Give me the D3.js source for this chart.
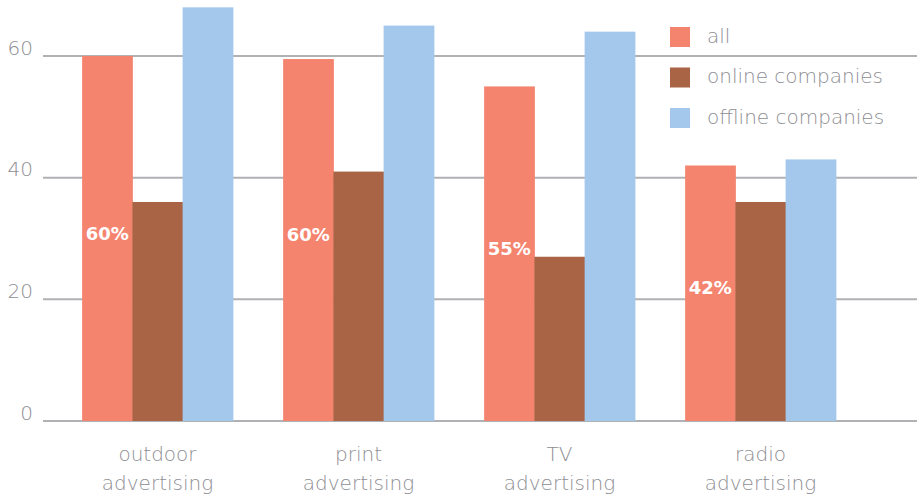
<!DOCTYPE html>
<html>
<head>
<meta charset="utf-8">
<script src="https://cdn.jsdelivr.net/npm/d3@7"></script>
<style>
  html, body { margin: 0; padding: 0; background: #ffffff; }
  svg { display: block; font-family: "DejaVu Sans", sans-serif; }
</style>
</head>
<body>
<svg id="chart" width="917" height="499"></svg>
<script>
// Share of companies using each advertising channel (%)
const categories = [["outdoor", "advertising"], ["print", "advertising"], ["TV", "advertising"], ["radio", "advertising"]];
const seriesNames = ["all", "online companies", "offline companies"];
const allValues = [60, 59.5, 55, 42];
const onlineValues = [36, 41, 27, 36];
const offlineValues = [68, 65, 64, 43];
const yTicks = [0, 20, 40, 60];
const colors = ["#F5846F", "#A86444", "#A3C8EB"];

const series = [allValues, onlineValues, offlineValues];
const catKeys = categories.map(c => c.join(" "));

const svg = d3.select("#chart");
const W = 917;

const x = d3.scaleBand().domain(catKeys).range([57, 861]).paddingInner(0.25).paddingOuter(0.125);
const xi = d3.scaleBand().domain(seriesNames).range([0, x.bandwidth()]);
const y = d3.scaleLinear().domain([0, 60]).range([421, 56]);

// horizontal grid lines with value labels sitting above them
const grid = svg.append("g");
grid.selectAll("line").data(yTicks).join("line")
  .attr("x1", 43).attr("x2", W)
  .attr("y1", d => y(d)).attr("y2", d => y(d))
  .attr("stroke", "#B0B1B4").attr("stroke-width", 2);
grid.selectAll("text").data(yTicks).join("text")
  .attr("x", 33).attr("y", d => y(d) - 7)
  .attr("text-anchor", "end").attr("dominant-baseline", "middle")
  .attr("font-size", 20).attr("font-weight", 200).attr("fill", "#8E8E93")
  .text(d => d);

// grouped bars
const groups = svg.append("g").selectAll("g").data(catKeys).join("g")
  .attr("transform", d => `translate(${x(d)},0)`);
groups.selectAll("rect")
  .data((d, i) => seriesNames.map((s, j) => ({ s, j, v: series[j][i] })))
  .join("rect")
  .attr("x", d => xi(d.s))
  .attr("width", xi.bandwidth() + 0.5)
  .attr("y", d => y(d.v))
  .attr("height", d => y(0) - y(d.v))
  .attr("fill", d => colors[d.j]);

// value labels on the "all" bars
groups.append("text")
  .attr("x", xi("all") + xi.bandwidth() / 2)
  .attr("y", (d, i) => y(allValues[i] / 2) - 4)
  .attr("text-anchor", "middle").attr("dominant-baseline", "middle")
  .attr("font-size", 18).attr("font-weight", "bold").attr("fill", "#ffffff")
  .text((d, i) => d3.format(".0f")(allValues[i]) + "%");

// category labels (two lines)
const cat = svg.append("g").selectAll("text").data(categories).join("text")
  .attr("x", (d, i) => x(catKeys[i]) + x.bandwidth() / 2)
  .attr("text-anchor", "middle")
  .attr("font-size", 20).attr("font-weight", 200).attr("fill", "#8E8E93");
cat.selectAll("tspan").data(d => d).join("tspan")
  .attr("x", function () { return d3.select(this.parentNode).attr("x"); })
  .attr("y", (d, k) => 461 + k * 29)
  .text(d => d);

// legend
const legend = svg.append("g").selectAll("g").data(seriesNames).join("g")
  .attr("transform", (d, i) => `translate(670,${27 + i * 40.5})`);
legend.append("rect").attr("width", 20).attr("height", 20)
  .attr("fill", (d, i) => colors[i]);
legend.append("text")
  .attr("x", 37).attr("y", 10).attr("dominant-baseline", "middle")
  .attr("font-size", 20).attr("font-weight", 200).attr("fill", "#8E8E93")
  .text(d => d);
</script>
</body>
</html>
